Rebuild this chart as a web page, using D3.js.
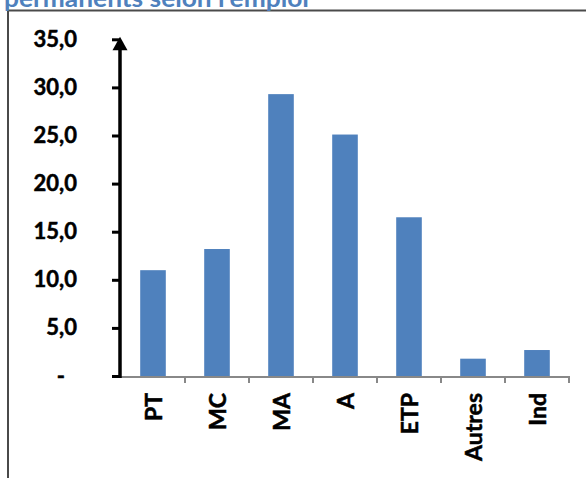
<!DOCTYPE html>
<html><head><meta charset="utf-8">
<script src="https://cdn.jsdelivr.net/npm/d3@7"></script>
<style>
html,body{margin:0;padding:0;background:#fff;}
svg{display:block;}
text{font-family:Lato, "Open Sans", sans-serif;font-weight:bold;}
</style></head>
<body>
<svg id="chart" width="586" height="478"></svg>
<script>
const title = "permanents selon l'emploi";
const categories = ["PT","MC","MA","A","ETP","Autres","Ind"];
const values = [11.0, 13.2, 29.3, 25.1, 16.5, 1.8, 2.7];
const yTickValues = [0,5,10,15,20,25,30,35];
const yTickLabels = ["-","5,0","10,0","15,0","20,0","25,0","30,0","35,0"];

const svg = d3.select("#chart");
const W = 586, H = 478;
const plot = {left:121, right:569, top:39.3, bottom:376};

// frame
svg.append("path")
  .attr("d", `M8,${H+2} L8,10.5 L${W+2},10.5`)
  .attr("fill","none").attr("stroke","#4a4a4a").attr("stroke-width",2);

// title (cut off at top, as in the reference)
svg.append("text").attr("x",4).attr("y",6.5)
  .attr("fill","#4F81BD").attr("font-size",24)
  .attr("textLength",305).attr("lengthAdjust","spacingAndGlyphs").text(title);

const x = d3.scaleBand().domain(categories).range([plot.left, plot.right])
  .paddingInner(0.6).paddingOuter(0.3);
const y = d3.scaleLinear().domain([0,35]).range([plot.bottom, plot.top]);

// bars
svg.append("g").selectAll("rect").data(categories).join("rect")
  .attr("x", d => x(d))
  .attr("width", x.bandwidth())
  .attr("y", (d,i) => y(values[i]))
  .attr("height", (d,i) => y(0) - y(values[i]))
  .attr("fill","#4F81BD");

// x axis
const step = x.step();
const bounds = categories.map(c => x(c) - (step - x.bandwidth())/2);
bounds.push(plot.right);
const gx = svg.append("g");
gx.append("line").attr("x1",plot.left).attr("x2",plot.right+1)
  .attr("y1",y(0)+1).attr("y2",y(0)+1)
  .attr("stroke","#888").attr("stroke-width",2);
gx.selectAll("line.tk").data(bounds.slice(1)).join("line").attr("class","tk")
  .attr("x1",d=>d).attr("x2",d=>d).attr("y1",y(0)).attr("y2",y(0)+7)
  .attr("stroke","#888").attr("stroke-width",2);
gx.selectAll("text").data(categories).join("text")
  .attr("transform", d => `translate(${x(d)+x.bandwidth()/2},393) rotate(-90)`)
  .attr("text-anchor","end").attr("dominant-baseline","central")
  .attr("font-size",23).attr("fill","#000")
  .attr("stroke","#000").attr("stroke-width",0.5).text(d=>d);

// y axis
const gy = svg.append("g").attr("transform",`translate(${plot.left-1},0)`);
gy.call(d3.axisLeft(y).tickValues(yTickValues).tickSize(8).tickPadding(35)
  .tickFormat((d,i)=>yTickLabels[i]));
gy.select(".domain").remove();
gy.selectAll(".tick line").attr("stroke","#000").attr("stroke-width",3);
gy.selectAll(".tick text").attr("font-size",22).attr("fill","#000")
  .attr("font-family","Lato, sans-serif").attr("font-weight","bold")
  .attr("stroke","#000").attr("stroke-width",0.5)
  .attr("dx",(d,i)=> yTickLabels[i]==="-" ? -12 : 0);
gy.append("line").attr("x1",0).attr("x2",0).attr("y1",y(0)+2).attr("y2",y(35)+10)
  .attr("stroke","#000").attr("stroke-width",3.5);
gy.append("path").attr("d",`M0,${y(35)-2.5} L-7.5,${y(35)+11} L7.5,${y(35)+11} Z`).attr("fill","#000");
</script>
</body></html>
